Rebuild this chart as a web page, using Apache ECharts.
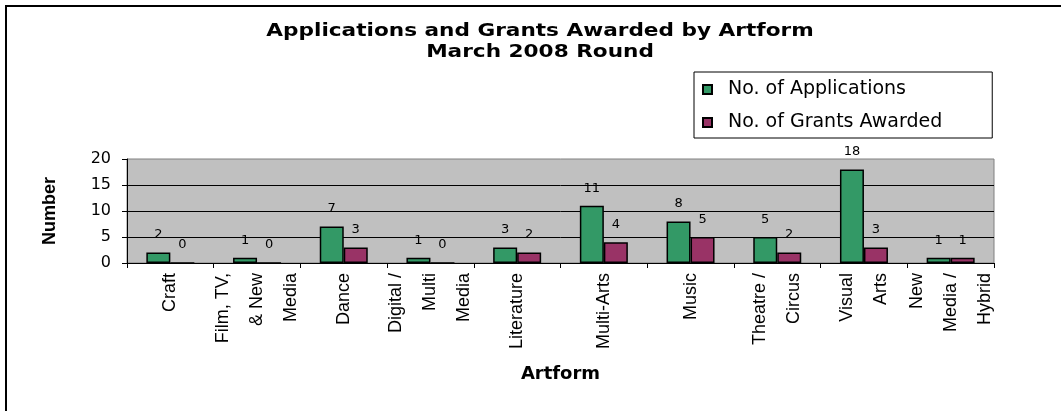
<!DOCTYPE html>
<html>
<head>
<meta charset="utf-8">
<script src="https://cdn.jsdelivr.net/npm/echarts@6/dist/echarts.min.js"></script>
<style>
    html, body {margin: 0; padding: 0; background: #fff;}
    #main {width: 1061px; height: 411px;}
</style>
</head>
<body>
<div id="main"></div>
<script>
    // data
    var categories = ['Craft', 'Film, TV,\n& New\nMedia', 'Dance', 'Digital /\nMulti\nMedia', 'Literature',
        'Multi-Arts', 'Music', 'Theatre /\nCircus', 'Visual\nArts', 'New\nMedia /\nHybrid'];
    var applications = [2, 1, 7, 1, 3, 11, 8, 5, 18, 1];
    var grants = [0, 0, 3, 0, 2, 4, 5, 2, 3, 1];
    var yTicks = [0, 5, 10, 15, 20];
    var titleLines = ['Applications and Grants Awarded by Artform', 'March 2008 Round'];

    var myChart = echarts.init(document.getElementById('main'));

    var labelStyle = {
        show: true,
        position: 'top',
        distance: 11,
        color: '#000',
        fontFamily: 'DejaVu Sans',
        fontSize: 13
    };

    // the original title text is drawn a bit stretched sideways
    function titleText(str, y) {
        return {
            type: 'text',
            silent: true,
            x: 540,
            y: y,
            scaleX: 1.2,
            style: {
                text: str,
                fill: '#000',
                font: 'bold 18px "DejaVu Sans"',
                textAlign: 'center',
                textVerticalAlign: 'middle'
            }
        };
    }

    var option = {
        backgroundColor: '#fff',
        animation: false,
        graphic: [{
            // outer chart frame (cut off at the right and bottom)
            type: 'rect',
            silent: true,
            shape: {x: 6, y: 6, width: 1200, height: 600},
            style: {fill: 'none', stroke: '#000', lineWidth: 2}
        },
            titleText(titleLines[0], 31),
            titleText(titleLines[1], 52)
        ],
        legend: {
            orient: 'vertical',
            left: 694,
            top: 72,
            itemWidth: 9,
            itemHeight: 9,
            itemGap: 14,
            padding: [8, 50, 6, 8],
            borderColor: '#000',
            borderWidth: 1,
            backgroundColor: '#fff',
            icon: 'rect',
            textStyle: {
                fontFamily: 'DejaVu Sans',
                fontSize: 19,
                color: '#000',
                padding: [0, 0, 0, 11]
            },
            data: ['No. of Applications', 'No. of Grants Awarded']
        },
        grid: {
            show: true,
            left: 127,
            right: 67,
            top: 159,
            bottom: 148,
            backgroundColor: '#c0c0c0',
            borderColor: '#808080',
            borderWidth: 1
        },
        xAxis: {
            type: 'category',
            data: categories,
            name: 'Artform',
            nameLocation: 'middle',
            nameGap: 102,
            nameTextStyle: {
                fontFamily: 'DejaVu Sans',
                fontWeight: 'bold',
                fontSize: 18,
                color: '#000'
            },
            axisLine: {lineStyle: {color: '#000', width: 1}},
            axisTick: {show: true, length: 5, lineStyle: {color: '#000'}},
            axisLabel: {
                interval: 0,
                rotate: 90,
                margin: 10,
                lineHeight: 34,
                fontFamily: 'Arial',
                fontSize: 18,
                color: '#000'
            }
        },
        yAxis: {
            type: 'value',
            min: yTicks[0],
            max: yTicks[yTicks.length - 1],
            interval: yTicks[1] - yTicks[0],
            name: 'Number',
            nameLocation: 'middle',
            nameGap: 68,
            nameTextStyle: {
                fontFamily: 'Arial',
                fontWeight: 'bold',
                fontSize: 18,
                color: '#000'
            },
            axisLine: {show: true, lineStyle: {color: '#000', width: 1}},
            axisTick: {show: true, length: 5, lineStyle: {color: '#000'}},
            axisLabel: {
                margin: 16,
                fontFamily: 'DejaVu Sans',
                fontSize: 16,
                color: '#000'
            },
            splitLine: {show: true, showMaxLine: false, lineStyle: {color: '#000', width: 1}}
        },
        series: [
            {
                name: 'No. of Applications',
                type: 'bar',
                data: applications,
                barWidth: 24,
                barGap: '0%',
                itemStyle: {color: '#339966', borderColor: '#000', borderWidth: 1.5},
                label: labelStyle
            },
            {
                name: 'No. of Grants Awarded',
                type: 'bar',
                data: grants,
                barWidth: 24,
                barGap: '0%',
                itemStyle: {color: '#993366', borderColor: '#000', borderWidth: 1.5},
                label: labelStyle
            }
        ]
    };
    myChart.setOption(option);
</script>
</body>
</html>
